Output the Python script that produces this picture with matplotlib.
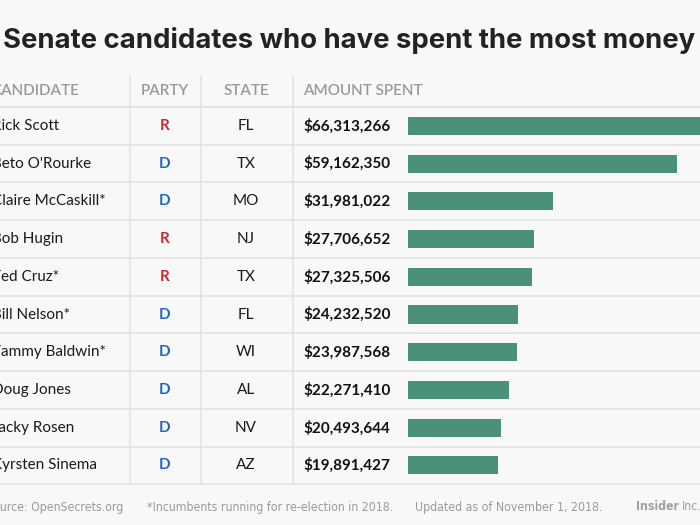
import matplotlib
matplotlib.use('Agg')
import matplotlib.pyplot as plt

# data
names = ['Rick Scott', "Beto O'Rourke", 'Claire McCaskill*', 'Bob Hugin',
         'Ted Cruz*', 'Bill Nelson*', 'Tammy Baldwin*', 'Doug Jones',
         'Jacky Rosen', 'Kyrsten Sinema']
parties = ['R', 'D', 'D', 'R', 'R', 'D', 'D', 'D', 'D', 'D']
states = ['FL', 'TX', 'MO', 'NJ', 'TX', 'FL', 'WI', 'AL', 'NV', 'AZ']
spent = [66313266, 59162350, 31981022, 27706652, 27325506,
         24232520, 23987568, 22271410, 20493644, 19891427]
headers = ['CANDIDATE', 'PARTY', 'STATE', 'AMOUNT SPENT']
footer = ['Source: OpenSecrets.org', '*Incumbents running for re-election in 2018.',
          'Updated as of November 1, 2018.']

BG = '#f8f8f8'
LINE = '#e3e3e3'
BAR = '#4a907a'
PARTY_COLORS = {'R': '#c62a2f', 'D': '#1f66c2'}
FONT = 'Lato'

W, H = 700, 525
top, row_h = 107, 37.73
n = len(names)

fig = plt.figure(figsize=(7, 5.25), dpi=100, facecolor=BG)

# background axes in pixel units for the table text and rules
ax = fig.add_axes([0, 0, 1, 1])
ax.set_xlim(0, W)
ax.set_ylim(H, 0)
ax.axis('off')
ax.set_facecolor(BG)

ax.text(3, 41, 'Senate candidates who have spent the most money', fontsize=19.8,
        fontweight='bold', family='Inter', color='#222222', va='center', ha='left')

# rules
for k in range(n + 1):
    ax.plot([0, W], [top + k * row_h] * 2, color=LINE, lw=1.6 if k == 0 else 1.2,
            solid_capstyle='butt')
for x in [130, 200.7, 293]:
    ax.plot([x, x], [76, top + n * row_h], color=LINE, lw=1.2)

# header
hy = 91
hkw = dict(fontsize=11, color='#999999', family=FONT, fontweight='semibold',
           va='center')
ax.text(-9, hy, headers[0], ha='left', **hkw)
ax.text(165, hy, headers[1], ha='center', **hkw)
ax.text(246, hy, headers[2], ha='center', **hkw)
ax.text(303, hy, headers[3], ha='left', **hkw)

# rows
for i in range(n):
    y = top + (i + 0.5) * row_h
    ax.text(-8, y, names[i], fontsize=11, color='#1a1a1a', family=FONT,
            va='center', ha='left')
    ax.text(165, y, parties[i], fontsize=11, color=PARTY_COLORS[parties[i]],
            family=FONT, fontweight='bold', va='center', ha='center')
    ax.text(246, y, states[i], fontsize=11, color='#1a1a1a', family=FONT,
            va='center', ha='center')
    ax.text(303, y, f'${spent[i]:,}', fontsize=11, color='#111111', family=FONT,
            fontweight='bold', va='center', ha='left')

# footer
fy = 507
fkw = dict(fontsize=8.8, color='#9a9a9a', family='DejaVu Sans',
           fontstretch='condensed', va='center', ha='left')
ax.text(-14, fy, footer[0], **fkw)
ax.text(147, fy, footer[1], **fkw)
ax.text(415, fy, footer[2], **fkw)
ins = ax.text(636, fy, 'Insider', fontweight='bold', **{**fkw, 'color': '#a0a0a0'})
ax.annotate('Inc.', xy=(1, 0.5), xycoords=ins, xytext=(2, 0),
            textcoords='offset points', **{**fkw, 'color': '#a0a0a0'})

# bars on their own axes, scaled in dollars
bx0 = 407.7
px_per_dollar = (677.3 - bx0) / spent[1]
bax = fig.add_axes([bx0 / W, (H - (top + n * row_h)) / H,
                    (W - bx0) / W, n * row_h / H])
bax.barh(range(n), spent, height=0.48, color=BAR, left=0)
bax.set_xlim(0, (W - bx0) / px_per_dollar)
bax.set_ylim(n - 0.5, -0.5)
bax.axis('off')

fig.savefig('out.png', dpi=100, facecolor=BG)
